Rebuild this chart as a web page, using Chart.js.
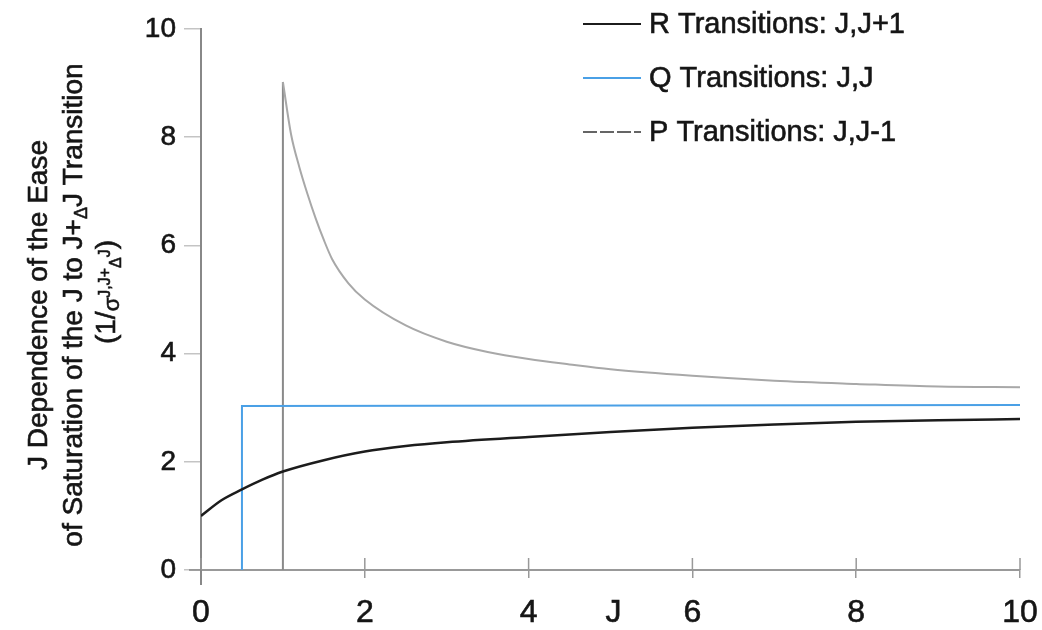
<!DOCTYPE html>
<html>
<head>
<meta charset="utf-8">
<script src="https://cdn.jsdelivr.net/npm/chart.js@4.4.1/dist/chart.umd.min.js"></script>
<style>
  html, body { margin: 0; padding: 0; background: #fff; }
  #chart { display: block; }
</style>
</head>
<body>
<canvas id="chart" width="1042" height="630"></canvas>
<script>
// --- Data ---
const jR = [0, 0.25, 0.5, 0.75, 1, 1.5, 2, 2.5, 3, 4, 5, 6, 7, 8, 9, 10];
const rVal = [1.0, 1.29, 1.49, 1.67, 1.82, 2.03, 2.19, 2.29, 2.36, 2.46, 2.55, 2.63, 2.69, 2.74, 2.77, 2.79];

const jQ = [0.5, 0.5, 10];
const qVal = [0, 3.03, 3.05];

const jP = [1, 1.1, 1.2, 1.3, 1.4, 1.5, 1.6, 1.8, 2, 2.5, 3, 3.5, 4, 4.5, 5, 6, 7, 8, 9, 10];
const pVal = [9.02, 8.05, 7.45, 6.95, 6.5, 6.1, 5.75, 5.3, 5.0, 4.52, 4.22, 4.03, 3.9, 3.8, 3.71, 3.59, 3.5, 3.44, 3.39, 3.38];

const xTicks = [0, 2, 4, 6, 8, 10];
const yTicks = [0, 2, 4, 6, 8, 10];
const xTitle = 'J';
const legendLabels = ['R Transitions: J,J+1', 'Q Transitions: J,J', 'P Transitions: J,J-1'];

const FONT = "'Liberation Sans', Arial, sans-serif";
const INK = '#151515';

const toPts = (xs, ys) => xs.map((v, i) => ({ x: v, y: ys[i] }));

// P curve starts with a vertical rise at its first J
const pDrop = [{ x: jP[0], y: 0 }, { x: jP[0], y: pVal[0] }];

// --- Custom drawing: inner tick marks, legend, axis titles ---
function line(ctx, x1, y1, x2, y2) {
    ctx.beginPath(); ctx.moveTo(x1, y1); ctx.lineTo(x2, y2); ctx.stroke();
}

function inkText(ctx, t, x, y) {
    ctx.strokeText(t, x, y);
    ctx.fillText(t, x, y);
}

// draws a run of text pieces (with sub/superscripts) centred on 0,0
function richText(ctx, parts, size) {
    let total = 0;
    parts.forEach(p => {
        ctx.font = Math.round(size * (p.s || 1)) + 'px ' + FONT;
        p.w = ctx.measureText(p.t).width;
        total += p.w;
    });
    let cx = -total / 2;
    ctx.textAlign = 'left';
    ctx.textBaseline = 'alphabetic';
    parts.forEach(p => {
        ctx.font = Math.round(size * (p.s || 1)) + 'px ' + FONT;
        inkText(ctx, p.t, cx, size * 0.36 + (p.dy || 0));
        cx += p.w;
    });
}

const extras = {
    id: 'extras',
    afterDraw(chart) {
        const { ctx, chartArea: a, scales: { x } } = chart;
        ctx.save();

        // x tick marks cross the axis line
        ctx.strokeStyle = '#999'; ctx.lineWidth = 1.5;
        xTicks.forEach(v => {
            const px = x.getPixelForValue(v);
            line(ctx, px, a.bottom - 12, px, a.bottom);
        });
        // y axis runs a little past the x axis
        ctx.strokeStyle = '#888'; ctx.lineWidth = 2;
        line(ctx, a.left, a.bottom, a.left, a.bottom + 15);
        ctx.lineWidth = 1.5;
        line(ctx, a.left - 12, a.bottom, a.left, a.bottom);

        ctx.fillStyle = INK;
        ctx.strokeStyle = INK;
        ctx.lineWidth = 0.6;

        // x axis title sits in the tick label row
        ctx.font = '32px ' + FONT;
        ctx.textAlign = 'center'; ctx.textBaseline = 'middle';
        inkText(ctx, xTitle, x.getPixelForValue(5) + 3, 613);

        // legend
        const rows = [24, 78, 132];
        chart.data.datasets.filter(d => d.legendRow !== undefined).forEach(d => {
            const ly = rows[d.legendRow];
            ctx.save();
            ctx.strokeStyle = d.legendColor || d.borderColor;
            ctx.lineWidth = d.legendWidth || 2;
            ctx.setLineDash(d.legendDash || []);
            line(ctx, 583, ly, 641, ly);
            ctx.restore();
            ctx.font = '29px ' + FONT;
            ctx.textAlign = 'left'; ctx.textBaseline = 'middle';
            inkText(ctx, d.label, 649, ly + 1);
        });

        // y axis title, three rotated lines
        const titleLines = [
            { cx: 37, cy: 305, parts: [{ t: 'J Dependence of the Ease' }] },
            { cx: 72, cy: 305, parts: [{ t: 'of Saturation of the J to J+' }, { t: 'Δ', s: 0.65, dy: 5 }, { t: 'J Transition' }] },
            { cx: 105, cy: 292, parts: [{ t: '(1/' }, { t: 'σ', s: 0.8, dy: 4 }, { t: 'J,J+', s: 0.58, dy: -5 },
                               { t: 'Δ', s: 0.58, dy: 6 }, { t: 'J', s: 0.58, dy: -5 }, { t: ')' }] }
        ];
        titleLines.forEach(l => {
            ctx.save();
            ctx.translate(l.cx, l.cy);
            ctx.rotate(-Math.PI / 2);
            richText(ctx, l.parts, 28);
            ctx.restore();
        });

        ctx.restore();
    }
};

new Chart(document.getElementById('chart'), {
    type: 'scatter',
    data: {
        datasets: [
            {
                label: legendLabels[0], legendRow: 0,
                data: toPts(jR, rVal),
                showLine: true, borderColor: '#1c1c1c', borderWidth: 2.5,
                cubicInterpolationMode: 'monotone', pointRadius: 0
            },
            {
                label: legendLabels[1], legendRow: 1,
                data: toPts(jQ, qVal),
                showLine: true, borderColor: '#4aa0e6', borderWidth: 2,
                tension: 0, pointRadius: 0
            },
            {
                label: legendLabels[2], legendRow: 2,
                legendColor: '#333', legendWidth: 1.5, legendDash: [14, 3],
                data: toPts(jP, pVal),
                showLine: true, borderColor: '#a8a8a8', borderWidth: 2,
                cubicInterpolationMode: 'monotone', pointRadius: 0
            },
            {
                data: pDrop,
                showLine: true, borderColor: '#8a8a8a', borderWidth: 2,
                tension: 0, pointRadius: 0
            }
        ]
    },
    options: {
        responsive: false,
        animation: false,
        devicePixelRatio: 1,
        layout: { padding: { top: 29, right: 22, left: 0, bottom: 0 } },
        plugins: {
            legend: { display: false },
            tooltip: { enabled: false }
        },
        scales: {
            x: {
                type: 'linear', min: 0, max: 10,
                afterFit: s => { s.height = 60; s.paddingLeft = 0; s.paddingRight = 0; },
                afterBuildTicks: s => { s.ticks = xTicks.map(v => ({ value: v })); },
                border: { color: '#999', width: 2 },
                grid: { drawOnChartArea: false, tickLength: 8, color: '#999', lineWidth: 1.5 },
                ticks: { color: INK, textStrokeColor: INK, textStrokeWidth: 0.6, padding: 16, maxRotation: 0,
                         font: { family: FONT, size: 32 } }
            },
            y: {
                type: 'linear', min: 0, max: 10,
                afterFit: s => { s.width = 201; },
                afterBuildTicks: s => { s.ticks = yTicks.map(v => ({ value: v })); },
                border: { color: '#888', width: 2 },
                grid: { drawOnChartArea: false, tickLength: 17, color: '#c4c4c4', lineWidth: 1.5 },
                ticks: { color: INK, textStrokeColor: INK, textStrokeWidth: 0.6, padding: 8,
                         font: { family: FONT, size: 28 } }
            }
        }
    },
    plugins: [extras]
});
</script>
</body>
</html>
